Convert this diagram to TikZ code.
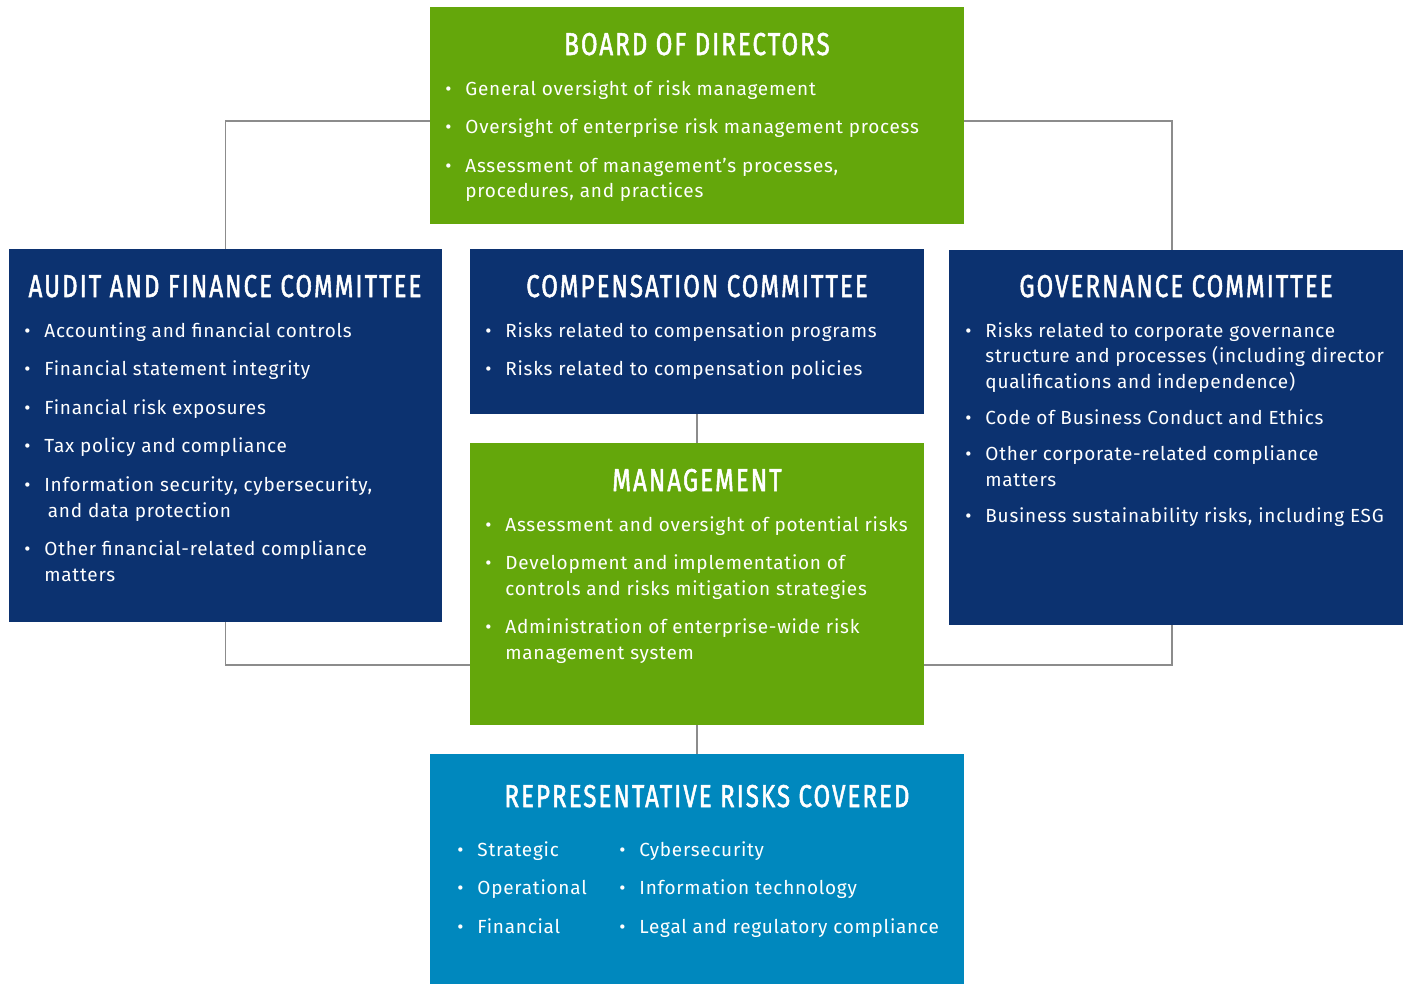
\documentclass[tikz,border=0pt]{standalone}
\usepackage{fontspec}
\setmainfont[LetterSpace=4]{Fira Sans}
\newfontfamily\headfont[FakeStretch=0.76,FakeBold=1.6,LetterSpace=6.5]{Fira Sans}
\usetikzlibrary{fit}

\definecolor{boardgreen}{HTML}{64A70B}
\definecolor{cmtnavy}{HTML}{0C3270}
\definecolor{riskblue}{HTML}{0088BE}
\definecolor{linkgray}{HTML}{8C8C8C}

\newcommand{\bul}{\makebox[0pt]{\textbullet}}
\newcommand{\itemlist}[1]{\begin{tabular}[t]{@{}r@{\hspace{9.7pt}}l@{}}#1\end{tabular}}

\begin{document}
\begin{tikzpicture}[x=0.02cm,y=-0.02cm,
  box/.style={inner sep=0pt,outer sep=0pt},
  title/.style={anchor=base,text=white,font=\headfont\fontsize{18}{20}\selectfont},
  items/.style={anchor=base west,inner sep=0pt,text=white,font=\fontsize{10.8}{14.6}\selectfont},
  link/.style={draw=linkgray,line width=0.7pt}]
  \useasboundingbox (0,0) rectangle (1408,984);

  % boxes
  \node[box,fill=boardgreen,fit={(430,7) (964,224)}] (board) {};
  \node[box,fill=cmtnavy,fit={(9,249) (442,622)}] (audit) {};
  \node[box,fill=cmtnavy,fit={(470,249) (924,414)}] (comp) {};
  \node[box,fill=cmtnavy,fit={(949,250) (1403,625)}] (gov) {};
  \node[box,fill=boardgreen,fit={(470,443) (924,725)}] (mgmt) {};
  \node[box,fill=riskblue,fit={(430,754) (964,984)}] (risks) {};

  % connectors
  \coordinate (topbus) at (697,121);
  \coordinate (lowbus) at (697,665);
  \draw[link] (board.west |- topbus) -| (audit.north);
  \draw[link] (board.east |- topbus) -| ([xshift=-0.08cm]gov.north);
  \draw[link] (comp.south) -- (mgmt.north);
  \draw[link] (audit.south) |- (mgmt.west |- lowbus);
  \draw[link] ([xshift=-0.08cm]gov.south) |- (mgmt.east |- lowbus);
  \draw[link] (mgmt.south) -- (risks.north);

  % board of directors
  \node[title] (board-title) at (697,55) {BOARD OF DIRECTORS};
  \node[items] (board-list) at (448,95) {\itemlist{
    \bul & General oversight of risk management\\[7.4pt]
    \bul & Oversight of enterprise risk management process\\[7.4pt]
    \bul & Assessment of management’s processes,\\
         & procedures, and practices}};

  % committees
  \node[title] (audit-title) at (225,297) {AUDIT AND FINANCE COMMITTEE};
  \node[items] (audit-list) at (27,337) {\itemlist{
    \bul & Accounting and financial controls\\[7.4pt]
    \bul & Financial statement integrity\\[7.4pt]
    \bul & Financial risk exposures\\[7.4pt]
    \bul & Tax policy and compliance\\[7.4pt]
    \bul & Information security, cybersecurity,\\
         & \hspace{2pt}and data protection\\[7.4pt]
    \bul & Other financial-related compliance\\
         & matters}};

  \node[title] (comp-title) at (697,297) {COMPENSATION COMMITTEE};
  \node[items] (comp-list) at (488,337) {\itemlist{
    \bul & Risks related to compensation programs\\[7.4pt]
    \bul & Risks related to compensation policies}};

  \node[title] (gov-title) at (1176,297) {GOVERNANCE COMMITTEE};
  \node[items] (gov-list) at (968,337) {\itemlist{
    \bul & Risks related to corporate governance\\
         & structure and processes (including director\\
         & qualifications and independence)\\[6pt]
    \bul & Code of Business Conduct and Ethics\\[6pt]
    \bul & Other corporate-related compliance\\
         & matters\\[6pt]
    \bul & Business sustainability risks, including ESG}};

  % management
  \node[title] (mgmt-title) at (697,491) {MANAGEMENT};
  \node[items] (mgmt-list) at (488,531) {\itemlist{
    \bul & Assessment and oversight of potential risks\\[7.4pt]
    \bul & Development and implementation of\\
         & controls and risks mitigation strategies\\[7.4pt]
    \bul & Administration of enterprise-wide risk\\
         & management system}};

  % risks covered
  \node[title] (risks-title) at (707,807) {REPRESENTATIVE RISKS COVERED};
  \node[items] (risks-left) at (460,856) {\itemlist{
    \bul & Strategic\\[7.4pt]
    \bul & Operational\\[7.4pt]
    \bul & Financial}};
  \node[items] (risks-right) at (622,856) {\itemlist{
    \bul & Cybersecurity\\[7.4pt]
    \bul & Information technology\\[7.4pt]
    \bul & Legal and regulatory compliance}};
\end{tikzpicture}
\end{document}
